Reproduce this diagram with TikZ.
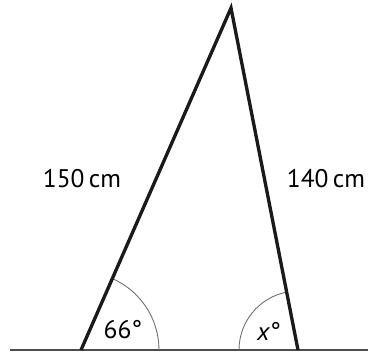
\documentclass[tikz,border=0pt]{standalone}
\usepackage{fontspec}
\setmainfont{PT Sans}
\definecolor{linecol}{HTML}{1A1A1A}
\definecolor{groundcol}{HTML}{4D4D4D}
\definecolor{arccol}{HTML}{6E6E6E}

\begin{document}
\begin{tikzpicture}[x=0.02cm,y=-0.02cm,font=\fontsize{14.5}{17}\selectfont]
\useasboundingbox (0,0) rectangle (368,356);
\coordinate (A) at (81,350);
\coordinate (B) at (298,350);
\coordinate (C) at (231,8);
\coordinate (gl) at (10,350);
\coordinate (gr) at (368,350);
\draw[groundcol,line width=1.2pt] (gl) -- (gr);
\draw[arccol,line width=.5pt] (A) +(0:78) arc[start angle=0,end angle=-66.3,radius=78];
\draw[arccol,line width=.5pt] (B) +(180:59) arc[start angle=180,end angle=258.9,radius=59];
\draw[linecol,line width=1.9pt,line join=miter] (A) -- (C) -- (B);
\node (ab) at (82,179) {150\,cm};
\node (bc) at (326,179) {140\,cm};
\node (angA) at (123,330) {66°};
\node (angB) at (269,331) {\textit{x}°};
\end{tikzpicture}
\end{document}
